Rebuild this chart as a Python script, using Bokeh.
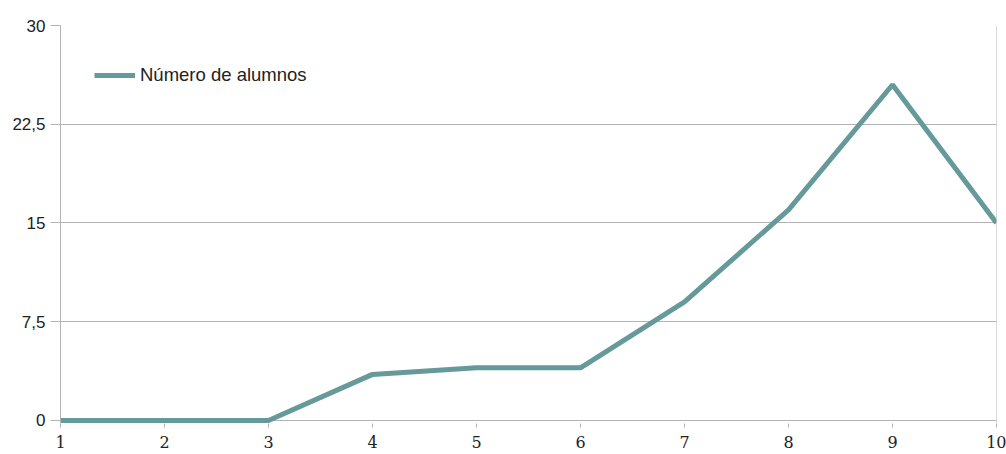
from bokeh.plotting import figure
from bokeh.models import Range1d, FixedTicker, Legend, LegendItem, Span
from bokeh.embed import file_html
from bokeh.resources import INLINE

# Data
x_values = [1, 2, 3, 4, 5, 6, 7, 8, 9, 10]
alumnos = [0, 0, 0, 3.5, 4, 4, 9, 16, 25.5, 15]
series_name = "Número de alumnos"
y_ticks = [0, 7.5, 15, 22.5, 30]
y_tick_labels = ["0", "7,5", "15", "22,5", "30"]

LINE_COLOR = "#669999"
GRID_COLOR = "#b3b3b3"

# small negative start so the thick line at 0 is not clipped by the frame
p = figure(width=1006, height=454, output_backend="svg", toolbar_location=None,
           x_range=Range1d(1, 10), y_range=Range1d(-0.23, 30),
           min_border_left=60, min_border_right=10, min_border_top=25, min_border_bottom=31)

p.background_fill_color = "white"
p.border_fill_color = "white"
p.outline_line_color = None

r = p.line(x_values, alumnos, line_color=LINE_COLOR, line_width=5)

# right border of the plot area
p.add_layout(Span(location=x_values[-1], dimension="height", line_color=GRID_COLOR, line_width=1))

# grids
p.xgrid.grid_line_color = None
p.ygrid.grid_line_color = GRID_COLOR
p.ygrid.ticker = FixedTicker(ticks=y_ticks)

# y axis
p.yaxis.ticker = FixedTicker(ticks=y_ticks)
p.yaxis.major_label_overrides = {t: l for t, l in zip(y_ticks, y_tick_labels)}
p.yaxis.major_label_text_font = "Liberation Sans"
p.yaxis.major_label_text_font_size = "17px"
p.yaxis.major_label_text_color = "#222222"
p.yaxis.axis_line_color = GRID_COLOR
p.yaxis.major_tick_line_color = GRID_COLOR
p.yaxis.major_tick_out = 10
p.yaxis.major_tick_in = 0
p.yaxis.minor_tick_line_color = None
p.yaxis.major_label_standoff = 5

# x axis
p.xaxis.ticker = FixedTicker(ticks=x_values)
p.xaxis.major_label_text_font = "DejaVu Serif"
p.xaxis.major_label_text_font_size = "16px"
p.xaxis.major_label_text_color = "#222222"
p.xaxis.axis_line_color = None
p.xaxis.major_tick_line_color = GRID_COLOR
p.xaxis.major_tick_out = 4
p.xaxis.major_tick_in = 0
p.xaxis.minor_tick_line_color = None
p.xaxis.major_label_standoff = 8

legend = Legend(items=[LegendItem(label=series_name, renderers=[r])],
                location=(34, 337), margin=0, padding=0, spacing=0,
                glyph_width=41, glyph_height=20, label_standoff=5,
                label_text_font="Liberation Sans", label_text_font_size="18.5px",
                label_text_color="#222222",
                border_line_color=None, background_fill_alpha=0)
p.add_layout(legend, "center")

open("out.html", "w").write(file_html(p, INLINE))
